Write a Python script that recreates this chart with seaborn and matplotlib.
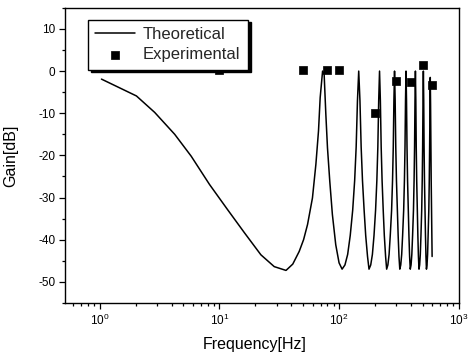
import numpy as np
import pandas as pd
import matplotlib
matplotlib.use("Agg")
import matplotlib.pyplot as plt
import seaborn as sns
from matplotlib.ticker import LogLocator, MultipleLocator, NullFormatter

# ---------------- data ----------------
# Theoretical curve, low-frequency fall
theo_f0 = [1.03, 2.02, 2.87, 4.22, 5.8, 8.25, 11.7, 16.2, 22.2, 28.7, 36.0]
theo_g0 = [-1.9, -5.9, -9.8, -15.0, -20.2, -26.9, -32.9, -38.4, -43.6, -46.4, -47.3]
# resonance 1 (~73 Hz)
theo_f1 = [41, 46.4, 50.5, 54.5, 59.9, 64.0, 67.3, 69.5, 72.8, 75.0, 77.5, 80.0, 83.6, 87.9, 93.8, 100.0, 106.0]
theo_g1 = [-45.8, -42.8, -40.0, -36.4, -30.1, -22.1, -14.2, -6.3, 0.0, -0.7, -10.2, -18.2, -26.1, -34.0, -41.2, -45.5, -47.0]
# resonance 2 (~146 Hz)
theo_f2 = [112, 118, 124, 130, 135, 139, 142.5, 146, 149.5, 153, 157, 162, 167, 173, 178]
theo_g2 = [-46, -43.5, -39, -33, -26, -18, -7, 0, -7, -18, -26, -33, -39, -44, -47]
# resonance 3 (~218 Hz)
theo_f3 = [184, 190, 196, 202, 207, 211, 214.5, 218, 221.5, 225, 229, 234, 239, 245, 250]
theo_g3 = [-46, -43.5, -39, -33, -26, -18, -7, 0, -7, -18, -26, -33, -39, -44, -47]
# resonance 4 (~291 Hz)
theo_f4 = [256, 262, 268, 275, 280, 284, 287.5, 291, 294.5, 298, 302, 307, 312, 317, 322]
theo_g4 = [-46, -43.5, -39, -33, -26, -18, -7, 0, -7, -18, -26, -33, -39, -44, -47]
# resonance 5 (~363 Hz)
theo_f5 = [328, 334, 340, 347, 352, 356, 359.5, 363, 366.5, 370, 374, 379, 384, 389, 394]
theo_g5 = [-46, -43.5, -39, -33, -26, -18, -7, 0, -7, -18, -26, -33, -39, -44, -47]
# resonance 6 (~435 Hz)
theo_f6 = [400, 406, 412, 419, 424, 428, 431.5, 435, 438.5, 442, 446, 451, 456, 461, 466]
theo_g6 = [-46, -43.5, -39, -33, -26, -18, -7, 0, -7, -18, -26, -33, -39, -44, -47]
# resonance 7 (~507 Hz)
theo_f7 = [472, 478, 484, 491, 496, 500, 503.5, 507, 510.5, 514, 518, 523, 528, 533, 538]
theo_g7 = [-46, -43.5, -39, -33, -26, -18, -7, 0, -7, -18, -26, -33, -39, -44, -47]
# resonance 8 (~579 Hz), curve ends
theo_f8 = [544, 550, 556, 563, 568, 572, 575.5, 579, 582.5, 586, 589.5, 593, 597, 600]
theo_g8 = [-46, -43.5, -39, -33, -26, -18, -8, -1.5, -8, -18, -26, -33, -39, -44]

# Experimental points
exp_freq = [10, 50, 80, 100, 200, 300, 400, 500, 600]
exp_gain = [0.3, 0.3, 0.3, 0.3, -10.0, -2.3, -2.7, 1.4, -3.3]

x_ticks = [1, 10, 100, 1000]
y_ticks = [-50, -40, -30, -20, -10, 0, 10]

# ---------------- build tables ----------------
theo_df = pd.DataFrame({
    "freq": theo_f0 + theo_f1 + theo_f2 + theo_f3 + theo_f4 + theo_f5 + theo_f6 + theo_f7 + theo_f8,
    "gain": theo_g0 + theo_g1 + theo_g2 + theo_g3 + theo_g4 + theo_g5 + theo_g6 + theo_g7 + theo_g8,
})
exp_df = pd.DataFrame({"freq": exp_freq, "gain": exp_gain})

# ---------------- plot ----------------
sns.set_theme(style="ticks")
plt.rcParams["font.family"] = ["Liberation Sans", "DejaVu Sans"]
plt.rcParams["mathtext.fontset"] = "custom"
plt.rcParams["mathtext.rm"] = "Liberation Sans"
plt.rcParams["mathtext.it"] = "Liberation Sans:italic"
plt.rcParams["axes.unicode_minus"] = False

fig = plt.figure(figsize=(4.68, 3.58), dpi=100)
ax = fig.add_axes([0.139, 0.154, 0.841, 0.824])

sns.lineplot(data=theo_df, x="freq", y="gain", sort=False, estimator=None,
             color="black", linewidth=1.1, ax=ax, label="Theoretical")
sns.scatterplot(data=exp_df, x="freq", y="gain", marker="s", s=38,
                color="black", edgecolor="black", linewidth=0.5,
                ax=ax, label="Experimental", zorder=3)

ax.set_xscale("log")
ax.set_xlim(0.511, 1000)
ax.set_ylim(-55, 15)
ax.set_xticks(x_ticks)
ax.xaxis.set_minor_locator(LogLocator(base=10, subs=np.arange(2, 10)))
ax.xaxis.set_minor_formatter(NullFormatter())
ax.set_yticks(y_ticks)
ax.yaxis.set_minor_locator(MultipleLocator(5))

for side in ["left", "bottom", "top", "right"]:
    ax.spines[side].set_color("black")
    ax.spines[side].set_linewidth(1.0)

ax.tick_params(which="both", direction="out", top=False, right=False,
               color="black", width=0.9, labelcolor="black")
ax.tick_params(which="major", length=4, labelsize=8.5, pad=3)
ax.tick_params(which="minor", length=2.2)

ax.set_xlabel("Frequency[Hz]", fontsize=11.5, color="black")
ax.set_ylabel("Gain[dB]", fontsize=11.5, color="black")
ax.xaxis.set_label_coords(0.483, -0.115)
ax.yaxis.set_label_coords(-0.118, 0.5)

leg = ax.legend(loc="upper left", bbox_to_anchor=(0.058, 0.96), borderaxespad=0,
                frameon=True, fancybox=False, shadow={"color": "black", "alpha": 1.0},
                edgecolor="black", framealpha=1, fontsize=12, handlelength=2.4,
                handletextpad=0.45, labelspacing=0.3, borderpad=0.45)
leg.get_frame().set_linewidth(1.0)
leg.set_zorder(5)

fig.savefig("out.png", dpi=100)
